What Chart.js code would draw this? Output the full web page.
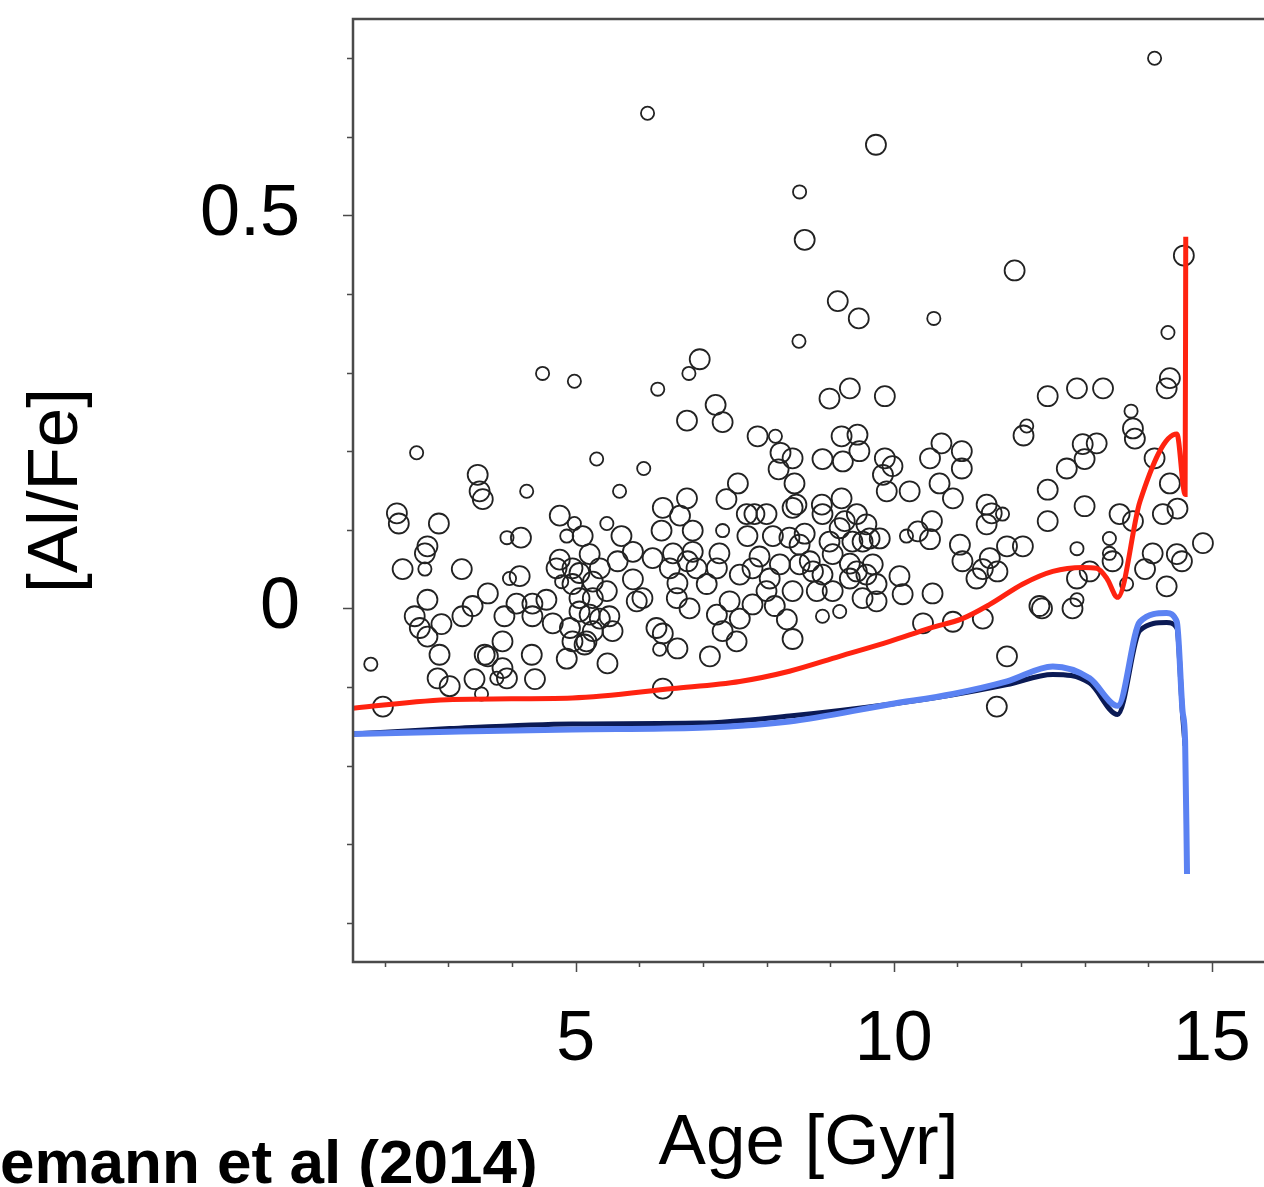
<!DOCTYPE html>
<html>
<head>
<meta charset="utf-8">
<title>[Al/Fe] vs Age</title>
<script src="https://cdn.jsdelivr.net/npm/chart.js@4.4.1/dist/chart.umd.min.js"></script>
<style>
  html, body { margin: 0; padding: 0; background: #fff; overflow: hidden; }
  canvas { display: block; }
</style>
</head>
<body>
<canvas id="alfeChart" width="1264" height="1187"></canvas>
<script>
// stars drawn with the big open markers
const bigAge = [
  9.72, 8.60, 11.90, 14.56, 9.12, 9.45, 6.95, 14.34, 14.29, 7.20,
  6.75, 7.31, 8.99, 9.31, 9.86, 12.42, 12.88, 13.29, 12.04, 13.76,
  13.79, 3.46, 3.49, 3.54, 2.19, 2.22, 2.85, 7.86, 8.22, 8.19,
  8.41, 8.44, 9.18, 9.43, 9.46, 9.20, 8.88, 8.47, 8.87, 9.18,
  9.23, 8.60, 9.57, 9.86, 9.98, 9.83, 9.89, 10.25, 10.57, 10.75,
  11.07, 11.07, 10.72, 10.93, 10.60, 10.38, 11.46, 11.54, 11.46, 12.72,
  12.97, 13.19, 13.00, 12.42, 13.00, 12.42, 13.55, 14.10, 14.34, 14.23,
  14.46, 14.86, 13.76, 4.75, 6.37, 6.75, 6.64, 7.55, 7.37, 7.69,
  7.81, 8.00, 8.41, 6.35, 6.84, 7.70, 4.14, 5.11, 5.72, 8.10,
  8.36, 1.97, 2.28, 2.63, 2.67, 3.21, 2.67, 2.47, 2.55, 2.67,
  2.89, 2.86, 2.83, 3.02, 3.22, 3.38, 3.62, 3.41, 3.62, 3.85,
  3.88, 3.85, 3.92, 4.12, 4.07, 4.32, 4.32, 4.31, 4.36, 4.54,
  4.64, 4.70, 4.75, 4.86, 4.91, 4.95, 5.06, 5.17, 5.27, 5.06,
  5.22, 5.38, 5.49, 5.53, 5.58, 5.50, 5.66, 5.90, 5.96, 6.21,
  6.53, 6.60, 6.37, 6.60, 6.76, 7.06, 7.22, 7.26, 7.42, 7.58,
  7.58, 7.22, 7.31, 7.53, 7.11, 7.89, 8.00, 8.13, 8.21, 8.32,
  8.41, 8.41, 6.37, 5.14, 8.68, 9.04, 9.31, 9.57, 9.51, 9.73,
  9.04, 8.79, 10.09, 10.14, 10.57, 10.61, 10.46, 10.93, 11.40, 11.04,
  11.08, 11.51, 11.40, 11.30, 11.63, 11.78, 12.03, 12.29, 12.81, 12.88,
  13.08, 13.44, 14.07, 13.95, 14.29, 14.53, 14.45, 11.78, 11.62, 8.73,
  8.52, 9.35, 9.62, 9.42, 9.73, 12.33,
  4.95, 5.27, 5.06, 5.22, 5.38, 4.95, 5.27, 6.90, 6.27, 3.57,
  6.05, 6.59, 6.79, 7.78, 8.05, 7.78, 5.90, 6.48, 6.84, 8.52,
  8.99, 8.88, 9.31, 9.67, 9.51, 9.78, 8.88, 9.42, 9.15
];
const bigAlFe = [
  0.590, 0.469, 0.430, 0.449, 0.391, 0.369, 0.317, 0.293, 0.280, 0.259,
  0.239, 0.237, 0.267, 0.280, 0.270, 0.270, 0.280, 0.280, 0.220, 0.229,
  0.216, 0.170, 0.149, 0.139, 0.121, 0.108, 0.108, 0.219, 0.198, 0.177,
  0.191, 0.159, 0.219, 0.221, 0.200, 0.187, 0.190, 0.132, 0.132, 0.140,
  0.111, 0.095, 0.107, 0.191, 0.181, 0.170, 0.149, 0.149, 0.191, 0.210,
  0.200, 0.178, 0.159, 0.140, 0.111, 0.098, 0.132, 0.121, 0.107, 0.178,
  0.209, 0.210, 0.190, 0.151, 0.130, 0.111, 0.120, 0.191, 0.159, 0.120,
  0.127, 0.083, 0.111, 0.118, 0.128, 0.140, 0.118, 0.159, 0.139, 0.120,
  0.120, 0.120, 0.128, 0.099, 0.099, 0.092, 0.090, 0.092, 0.092, 0.092,
  0.090, -0.125, 0.050, 0.070, 0.079, 0.050, 0.011, -0.010, -0.025, -0.036,
  -0.020, -0.059, -0.089, -0.099, -0.010, 0.003, 0.019, -0.090, -0.061, -0.042,
  -0.010, -0.076, -0.089, 0.041, 0.006, -0.010, 0.006, -0.059, -0.090, 0.011,
  -0.019, 0.051, 0.062, -0.064, -0.025, 0.031, 0.013, -0.042, 0.013, 0.045,
  0.069, 0.051, 0.022, -0.010, -0.029, -0.070, 0.060, 0.037, 0.009, 0.064,
  0.070, 0.032, -0.032, -0.051, 0.060, 0.031, 0.051, 0.070, 0.009, 0.043,
  -0.013, -0.008, -0.029, -0.042, -0.061, 0.066, 0.022, 0.003, 0.056, -0.014,
  -0.039, 0.022, -0.102, -0.046, 0.060, 0.069, 0.057, 0.043, 0.013, 0.009,
  0.022, 0.022, 0.041, 0.018, 0.088, 0.019, -0.019, -0.017, -0.013, 0.081,
  0.060, 0.064, 0.050, 0.038, 0.047, 0.079, 0.079, 0.003, 0.000, 0.038,
  0.047, 0.060, 0.070, 0.050, 0.028, 0.060, 0.069, -0.061, -0.125, 0.047,
  0.056, 0.085, 0.089, 0.047, 0.031, 0.000,
  0.051, 0.034, -0.004, -0.008, -0.013, -0.042, -0.029, 0.051, -0.025, -0.059,
  0.013, 0.013, 0.000, 0.051, 0.038, 0.005, 0.072, 0.051, 0.072, 0.081,
  0.085, 0.043, 0.038, 0.056, 0.085, 0.089, 0.120, 0.120, 0.102
];

// stars drawn with the small open markers
const smallAge = [
  14.10, 6.13, 8.52, 10.63, 8.51, 14.31, 6.78, 4.48, 4.98, 6.29,
  13.73, 2.50, 5.33, 6.07, 4.23, 5.69, 4.98, 5.49, 7.31, 3.92,
  4.86, 1.78, 2.63, 3.52, 3.96, 4.78, 6.32, 10.20, 11.71, 12.09,
  13.39, 8.88, 9.15, 12.88, 12.88, 13.39, 13.66, 3.76, 8.14
];
const smallAlFe = [
  0.700, 0.630, 0.530, 0.369, 0.340, 0.351, 0.299, 0.299, 0.289, 0.279,
  0.251, 0.198, 0.190, 0.178, 0.149, 0.149, 0.108, 0.108, 0.099, 0.090,
  0.092, -0.071, 0.050, -0.109, 0.038, 0.034, -0.052, 0.092, 0.120, 0.232,
  0.089, -0.010, -0.004, 0.011, 0.076, 0.070, 0.031, -0.089, 0.219
];

// model tracks
const redAge = [1.50, 3.07, 4.95, 6.53, 7.58, 8.36, 9.15, 9.94, 10.57, 11.08, 11.51,
  12.03, 12.50, 12.97, 13.19, 13.35, 13.52, 13.87, 14.45, 14.58, 14.59];
const redAlFe = [-0.127, -0.116, -0.114, -0.102, -0.093, -0.080, -0.061, -0.042, -0.025, -0.013, 0.005,
  0.031, 0.047, 0.052, 0.051, 0.038, 0.014, 0.136, 0.222, 0.145, 0.473];

const blueAge = [1.50, 3.02, 4.95, 6.95, 8.36, 9.94, 10.93, 11.78, 12.50, 13.08, 13.52,
  13.87, 14.29, 14.45, 14.54, 14.58, 14.61];
const blueAlFe = [-0.160, -0.157, -0.154, -0.152, -0.144, -0.122, -0.109, -0.093, -0.074, -0.089, -0.124,
  -0.017, -0.006, -0.017, -0.131, -0.169, -0.338];

const navyAge = [1.50, 3.02, 4.95, 6.95, 8.36, 9.94, 10.93, 11.78, 12.50, 13.08, 13.52,
  13.87, 14.29, 14.45, 14.54, 14.58];
const navyAlFe = [-0.160, -0.153, -0.147, -0.146, -0.137, -0.122, -0.110, -0.097, -0.084, -0.095, -0.135,
  -0.028, -0.018, -0.025, -0.135, -0.175];

const xTickLabels = [5, 10, 15];
const yTickLabels = [0, 0.5];
const xMinorTicks = [2, 3, 4, 5, 6, 7, 8, 9, 10, 11, 12, 13, 14, 15];
const yMinorTicks = [-0.4, -0.3, -0.2, -0.1, 0, 0.1, 0.2, 0.3, 0.4, 0.5, 0.6, 0.7];
const sourceNote = 'emann et al (2014)';

const FONT = '"Liberation Sans", Arial, Helvetica, sans-serif';
const toPoints = (xs, ys) => xs.map((x, i) => ({ x, y: ys[i] }));

// scales may not reserve room for overhanging labels: the frame runs off the right edge
const noLabelPadding = (axis) => {
    axis.paddingTop = 0;
    axis.paddingBottom = 0;
    axis.paddingLeft = 0;
    axis.paddingRight = 0;
};

// box + outward tick marks, short for minor and long for labelled ticks
const framePlugin = {
    id: 'frame',
    afterDatasetsDraw(chart) {
        const { ctx, chartArea: a, scales: { x, y } } = chart;
        ctx.save();
        ctx.strokeStyle = '#4a4a4a';
        ctx.lineWidth = 2.5;
        ctx.beginPath();
        ctx.moveTo(a.right + 2, a.top);
        ctx.lineTo(a.left, a.top);
        ctx.lineTo(a.left, a.bottom);
        ctx.lineTo(a.right + 2, a.bottom);
        ctx.stroke();

        ctx.lineWidth = 1.5;
        ctx.beginPath();
        yMinorTicks.forEach(v => {
            const py = Math.round(y.getPixelForValue(v)) + 0.5;
            const len = yTickLabels.includes(v) ? 10 : 6;
            ctx.moveTo(a.left, py);
            ctx.lineTo(a.left - len, py);
        });
        xMinorTicks.forEach(v => {
            const px = Math.round(x.getPixelForValue(v)) + 0.5;
            const len = xTickLabels.includes(v) ? 10 : 5;
            ctx.moveTo(px, a.bottom);
            ctx.lineTo(px, a.bottom + len);
        });
        ctx.stroke();
        ctx.restore();
    },
    afterDraw(chart) {
        const { ctx } = chart;
        ctx.save();
        ctx.fillStyle = '#000';
        ctx.font = 'bold 62px ' + FONT;
        ctx.textAlign = 'left';
        ctx.textBaseline = 'alphabetic';
        ctx.fillText(sourceNote, 0, 1183);
        ctx.restore();
    }
};

const lineStyle = (color, width) => ({
    type: 'line',
    showLine: true,
    borderColor: color,
    borderWidth: width,
    pointRadius: 0,
    fill: false,
    cubicInterpolationMode: 'monotone'
});

const circleStyle = (radius) => ({
    type: 'scatter',
    pointStyle: 'circle',
    pointRadius: radius,
    pointBorderWidth: 1.8,
    borderColor: '#222222',
    backgroundColor: 'rgba(0,0,0,0)'
});

const ctx = document.getElementById('alfeChart').getContext('2d');
new Chart(ctx, {
    type: 'scatter',
    data: {
        datasets: [
            { label: 'model (light blue)', data: toPoints(blueAge, blueAlFe), ...lineStyle('#5b82f2', 6) },
            { label: 'model (dark blue)', data: toPoints(navyAge, navyAlFe), ...lineStyle('#0b1a55', 5) },
            { label: 'model (red)', data: toPoints(redAge, redAlFe), ...lineStyle('#ff2310', 5) },
            { label: 'stars', data: toPoints(bigAge, bigAlFe), ...circleStyle(10) },
            { label: 'stars (small)', data: toPoints(smallAge, smallAlFe), ...circleStyle(6.6) }
        ]
    },
    options: {
        responsive: false,
        animation: false,
        devicePixelRatio: 1,
        layout: { autoPadding: false, padding: { top: 19, right: 0, bottom: 0, left: 0 } },
        plugins: {
            legend: { display: false },
            tooltip: { enabled: false }
        },
        scales: {
            x: {
                type: 'linear',
                min: 1.5,
                max: 15.82,
                grid: { display: false, drawTicks: false, tickLength: 0 },
                border: { display: false },
                afterBuildTicks: (axis) => { axis.ticks = xTickLabels.map(v => ({ value: v })); },
                afterFit: (axis) => { axis.height = 225; noLabelPadding(axis); },
                ticks: {
                    padding: 44,
                    maxRotation: 0,
                    color: '#000',
                    font: { family: FONT, size: 70, lineHeight: 1 },
                    callback: (v) => String(v)
                },
                title: {
                    display: true,
                    text: 'Age [Gyr]',
                    color: '#000',
                    padding: { top: 0, bottom: 7 },
                    font: { family: FONT, size: 71, lineHeight: 1 }
                }
            },
            y: {
                type: 'linear',
                min: -0.45,
                max: 0.75,
                grid: { display: false, drawTicks: false, tickLength: 0 },
                border: { display: false },
                afterBuildTicks: (axis) => { axis.ticks = yTickLabels.map(v => ({ value: v })); },
                afterFit: (axis) => { axis.width = 353; noLabelPadding(axis); },
                ticks: {
                    padding: 53,
                    color: '#000',
                    font: { family: FONT, size: 72, lineHeight: 1 },
                    callback: (v) => String(v)
                },
                title: {
                    display: true,
                    text: '[Al/Fe]',
                    color: '#000',
                    padding: { top: 22, bottom: 0 },
                    font: { family: FONT, size: 71, lineHeight: 1 }
                }
            }
        }
    },
    plugins: [framePlugin]
});
</script>
</body>
</html>
